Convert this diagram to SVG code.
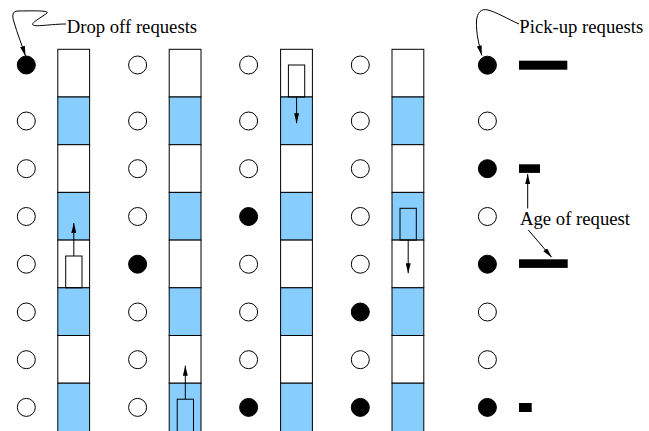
<svg xmlns="http://www.w3.org/2000/svg" width="649" height="431" viewBox="0 0 649 431">
<style>
.w{fill:#ffffff;stroke:#000;stroke-width:1}
.b{fill:#87ceff;stroke:#000;stroke-width:1}
.open{fill:#fff;stroke:#000;stroke-width:1}
.full{fill:#000;stroke:#000;stroke-width:1}
.car{fill:none;stroke:#000;stroke-width:1}
.bar{fill:#000}
.ln{fill:none;stroke:#000;stroke-width:1}
.lbl{font-family:"Liberation Serif","Times New Roman",serif;font-size:18.7px;fill:#000}
</style>
<defs>
<marker id="ah" viewBox="0 0 10 5" refX="10" refY="2.5" markerWidth="10" markerHeight="5" markerUnits="userSpaceOnUse" orient="auto">
<path d="M0,0 L10,2.5 L0,5 z" fill="#000"/>
</marker>
<g id="shaftcells">
<rect class="w" x="0" y="49.3" width="31.8" height="47.7"/>
<rect class="b" x="0" y="97" width="31.8" height="47.7"/>
<rect class="w" x="0" y="144.7" width="31.8" height="47.7"/>
<rect class="b" x="0" y="192.4" width="31.8" height="47.7"/>
<rect class="w" x="0" y="240.1" width="31.8" height="47.7"/>
<rect class="b" x="0" y="287.8" width="31.8" height="47.7"/>
<rect class="w" x="0" y="335.5" width="31.8" height="47.7"/>
<rect class="b" x="0" y="383.2" width="31.8" height="49"/>
</g>
</defs>
<rect width="649" height="431" fill="#fff"/>

<g id="shaft1"><use href="#shaftcells" x="57.8"/></g>
<g id="shaft2"><use href="#shaftcells" x="169.2"/></g>
<g id="shaft3"><use href="#shaftcells" x="280.6"/></g>
<g id="shaft4"><use href="#shaftcells" x="392"/></g>

<g id="elevator1"><rect class="car" x="65.7" y="256" width="16.3" height="31.8"/></g>
<g id="elevator2"><rect class="car" x="177.2" y="399.2" width="16.3" height="33"/></g>
<g id="elevator3"><rect class="car" x="288.4" y="65" width="16.3" height="32"/></g>
<g id="elevator4"><rect class="car" x="400" y="208.3" width="16.3" height="31.8"/></g>

<g id="dropoff-col1">
<circle class="full" cx="26.3" cy="65" r="9"/>
<circle class="open" cx="26.3" cy="121" r="9"/>
<circle class="open" cx="26.3" cy="168.7" r="9"/>
<circle class="open" cx="26.3" cy="216.5" r="9"/>
<circle class="open" cx="26.3" cy="264.2" r="9"/>
<circle class="open" cx="26.3" cy="312" r="9"/>
<circle class="open" cx="26.3" cy="359.7" r="9"/>
<circle class="open" cx="26.3" cy="407.4" r="9"/>
</g>
<g id="dropoff-col2">
<circle class="open" cx="137.6" cy="65" r="9"/>
<circle class="open" cx="137.6" cy="121" r="9"/>
<circle class="open" cx="137.6" cy="168.7" r="9"/>
<circle class="open" cx="137.6" cy="216.5" r="9"/>
<circle class="full" cx="137.6" cy="264.2" r="9"/>
<circle class="open" cx="137.6" cy="312" r="9"/>
<circle class="open" cx="137.6" cy="359.7" r="9"/>
<circle class="open" cx="137.6" cy="407.4" r="9"/>
</g>
<g id="dropoff-col3">
<circle class="open" cx="248.6" cy="65" r="9"/>
<circle class="open" cx="248.6" cy="121" r="9"/>
<circle class="open" cx="248.6" cy="168.7" r="9"/>
<circle class="full" cx="248.6" cy="216.5" r="9"/>
<circle class="open" cx="248.6" cy="264.2" r="9"/>
<circle class="open" cx="248.6" cy="312" r="9"/>
<circle class="open" cx="248.6" cy="359.7" r="9"/>
<circle class="full" cx="248.6" cy="407.4" r="9"/>
</g>
<g id="dropoff-col4">
<circle class="open" cx="360.3" cy="65" r="9"/>
<circle class="open" cx="360.3" cy="121" r="9"/>
<circle class="open" cx="360.3" cy="168.7" r="9"/>
<circle class="open" cx="360.3" cy="216.5" r="9"/>
<circle class="open" cx="360.3" cy="264.2" r="9"/>
<circle class="full" cx="360.3" cy="312" r="9"/>
<circle class="open" cx="360.3" cy="359.7" r="9"/>
<circle class="full" cx="360.3" cy="407.4" r="9"/>
</g>
<g id="pickup-col">
<circle class="full" cx="487.4" cy="65.2" r="9"/>
<circle class="open" cx="487.4" cy="121" r="9"/>
<circle class="full" cx="487.4" cy="168.7" r="9"/>
<circle class="open" cx="487.4" cy="216.5" r="9"/>
<circle class="full" cx="487.4" cy="264.2" r="9"/>
<circle class="open" cx="487.4" cy="312" r="9"/>
<circle class="open" cx="487.4" cy="359.7" r="9"/>
<circle class="full" cx="487.4" cy="407.4" r="9"/>
</g>
<g id="age-bars">
<rect class="bar" x="519" y="60.7" width="48.3" height="9"/>
<rect class="bar" x="519" y="164.3" width="21" height="8.6"/>
<rect class="bar" x="519" y="259.3" width="48.7" height="8.6"/>
<rect class="bar" x="519" y="403" width="12.7" height="9"/>
</g>

<g id="label-dropoff"><text class="lbl" x="66.7" y="33.3">Drop off requests</text></g>
<g id="label-pickup"><text class="lbl" x="519.3" y="33.3">Pick-up requests</text></g>
<g id="label-age"><text class="lbl" x="520" y="224.5">Age of request</text></g>

<g id="connectors">
<path class="ln" marker-end="url(#ah)" d="M66,24 C52,24 36,27 33,25 C30,23 44,16 47,13 C50,10 28,11 18,11 C12,11 12,16 14,22 C17,33 22,45 25.5,56"/>
<path class="ln" marker-end="url(#ah)" d="M519,24 C508,19 496,12 488,10 C481,8 477,13 476.5,21 C476,33 479,45 481.8,55.5"/>
<path class="ln" marker-end="url(#ah)" d="M527.7,208.5 L527.7,174"/>
<path class="ln" marker-end="url(#ah)" d="M528.3,230 L551.7,257.3"/>
<path class="ln" marker-end="url(#ah)" d="M73.8,256 L73.8,223"/>
<path class="ln" marker-end="url(#ah)" d="M185.3,399.2 L185.3,365.7"/>
<path class="ln" marker-end="url(#ah)" d="M296.6,97 L296.6,123.3"/>
<path class="ln" marker-end="url(#ah)" d="M408.2,240 L408.2,273.3"/>
</g>
</svg>
